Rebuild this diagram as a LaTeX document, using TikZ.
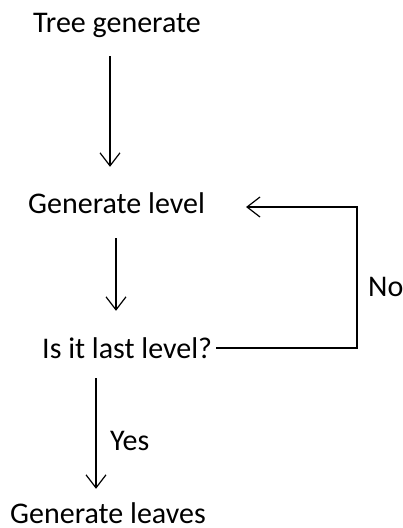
\documentclass[tikz,border=0pt]{standalone}
\usepackage{fontspec}
\setmainfont{Carlito}
\usepackage{tikz}
\usetikzlibrary{arrows.meta}

\begin{document}
\begin{tikzpicture}[x=1pt,y=-1pt]
\tikzset{step text/.style={
    inner sep=0pt,
    anchor=base west,
    text height=20pt,
    text depth=6pt,
    font=\fontsize{30}{36}\selectfont
  },
  flow arrow/.style={
    line width=1.2pt,
    -{Straight Barb[length=13pt,width=20pt,line width=1.2pt]}
  },
  flow line/.style={line width=1.2pt}
}
\useasboundingbox (0,0) rectangle (403,528);
\node[step text] (tree) at (33,32) {Tree generate};
\node[step text] (level) at (28,213) {Generate level};
\node[step text] (last) at (42,358) {Is it last level?};
\node[step text, text depth=0pt] (leaves) at (10,523) {Generate leaves};
\node[step text] (no) at (368,296) {No};
\node[step text] (yes) at (110,450) {Yes};
\coordinate (col1) at (110,0);
\coordinate (col2) at (116,0);
\coordinate (col3) at (96,0);
\coordinate (turn) at (357,0);
\draw[flow arrow, shorten <=18pt, shorten >=26pt] (tree.south -| col1) -- (level.north -| col1);
\draw[flow arrow, shorten <=19pt, shorten >=27pt] (level.south -| col2) -- (last.north -| col2);
\draw[flow arrow, shorten <=14pt, shorten >=14pt] (last.south -| col3) -- (leaves.north -| col3);
\draw[flow arrow, shorten <=4pt, shorten >=41pt] ([yshift=3pt]last.east) -| ([yshift=-1pt]level.east -| turn) -- ([yshift=-1pt]level.east);
\end{tikzpicture}
\end{document}
